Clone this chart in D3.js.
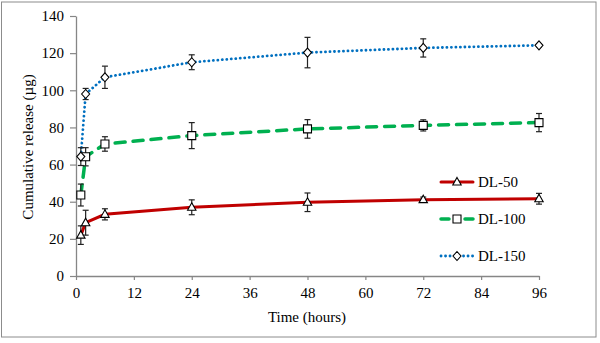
<!DOCTYPE html>
<html><head><meta charset="utf-8">
<script src="https://cdn.jsdelivr.net/npm/d3@7"></script>
<style>body{margin:0;background:#fff}svg{display:block}</style>
</head><body><svg id="c" width="600" height="343"></svg>
<script>
const times = [1, 2, 6, 24, 48, 72, 96];
const dl50 = [22, 28.7, 33.2, 37, 39.7, 41.1, 41.6];
const dl50Err = [5, 6.7, 3, 4, 5, 1.4, 2.9];
const dl100 = [43.6, 64.2, 71.1, 75.6, 79.2, 81.1, 82.6];
const dl100Err = [5.9, 4.9, 3.9, 7, 5, 3, 4.9];
const dl150 = [64.3, 98, 107, 115.1, 120.3, 122.8, 124.2];
const dl150Err = [4.8, 3, 6, 4, 8.2, 4.9, 0.8];
const xTicks = [0, 12, 24, 36, 48, 60, 72, 84, 96];
const yTicks = [0, 20, 40, 60, 80, 100, 120, 140];
const seriesNames = ["DL-50", "DL-100", "DL-150"];

const series = [
  {name: seriesNames[0], vals: dl50, err: dl50Err, color: "#C00000", dash: null, width: 3, marker: "triangle"},
  {name: seriesNames[1], vals: dl100, err: dl100Err, color: "#00B050", dash: "10,8", width: 3.5, marker: "square"},
  {name: seriesNames[2], vals: dl150, err: dl150Err, color: "#0070C0", dash: "0.1,4.4", width: 2.8, marker: "diamond"}
];

const svg = d3.select("#c");
const font = "'Liberation Serif', 'Times New Roman', serif";
svg.append("rect").attr("x", 1.5).attr("y", 2).attr("width", 594.5).attr("height", 335)
  .attr("fill", "#fff").attr("stroke", "#8c8c8c").attr("stroke-width", 1);

const x = d3.scaleLinear().domain([0, 96]).range([76, 539]);
const y = d3.scaleLinear().domain([0, 140]).range([276, 16]);

const gx = svg.append("g").attr("transform", "translate(0,276)")
  .call(d3.axisBottom(x).tickValues(xTicks).tickSize(4).tickPadding(7).tickSizeOuter(0));
const gy = svg.append("g").attr("transform", "translate(76,0)")
  .call(d3.axisLeft(y).tickValues(yTicks).tickSize(6).tickPadding(6).tickSizeOuter(0));
[gx, gy].forEach(g => {
  g.select(".domain").attr("stroke", "#868686").attr("stroke-width", 1.3);
  g.selectAll(".tick line").attr("stroke", "#868686").attr("stroke-width", 1.2);
  g.selectAll(".tick text").attr("fill", "#000").style("font-family", font).style("font-size", "15px");
});

svg.append("text").attr("x", 307).attr("y", 322).attr("text-anchor", "middle")
  .style("font-family", font).style("font-size", "15px").text("Time (hours)");
svg.append("text").attr("transform", "translate(33,147) rotate(-90)").attr("text-anchor", "middle")
  .style("font-family", font).style("font-size", "15px").text("Cumulative release (µg)");

function markerPath(type) {
  if (type === "triangle") return "M0,-4.5L4.2,3L-4.2,3Z";
  if (type === "square") return "M-4,-4H4V4H-4Z";
  return "M0,-4.5L4,0L0,4.5L-4,0Z";
}

const line = d3.line().x(d => x(d[0])).y(d => y(d[1]));
series.forEach(s => {
  const pts = times.map((t, i) => [t, s.vals[i], s.err[i]]);
  const p = svg.append("path").datum(pts).attr("d", line).attr("fill", "none")
    .attr("stroke", s.color).attr("stroke-width", s.width).attr("stroke-linecap", "round");
  if (s.dash) p.attr("stroke-dasharray", s.dash);
});
series.forEach(s => {
  const pts = times.map((t, i) => [t, s.vals[i], s.err[i]]);
  const g = svg.append("g");
  pts.forEach(d => {
    const cx = x(d[0]);
    g.append("line").attr("x1", cx).attr("x2", cx).attr("y1", y(d[1] - d[2])).attr("y2", y(d[1] + d[2]))
      .attr("stroke", "#222").attr("stroke-width", 1.2);
    [d[1] - d[2], d[1] + d[2]].forEach(v => g.append("line").attr("x1", cx - 3).attr("x2", cx + 3)
      .attr("y1", y(v)).attr("y2", y(v)).attr("stroke", "#222").attr("stroke-width", 1.2));
    g.append("path").attr("d", markerPath(s.marker)).attr("transform", `translate(${cx},${y(d[1])})`)
      .attr("fill", "#fff").attr("stroke", "#000").attr("stroke-width", 1.1);
  });
});

const legY = [182, 219, 256];
series.forEach((s, i) => {
  const g = svg.append("g");
  const l = g.append("line").attr("x1", 441).attr("x2", 473).attr("y1", legY[i]).attr("y2", legY[i])
    .attr("stroke", s.color).attr("stroke-width", s.width).attr("stroke-linecap", "round");
  if (s.dash) l.attr("stroke-dasharray", i === 1 ? "8,16" : "0.1,4.4");
  g.append("path").attr("d", markerPath(s.marker)).attr("transform", `translate(457,${legY[i]})`)
    .attr("fill", "#fff").attr("stroke", "#000").attr("stroke-width", 1.1);
  g.append("text").attr("x", 478).attr("y", legY[i] + 5).style("font-family", font).style("font-size", "15px").text(s.name);
});
</script></body></html>
